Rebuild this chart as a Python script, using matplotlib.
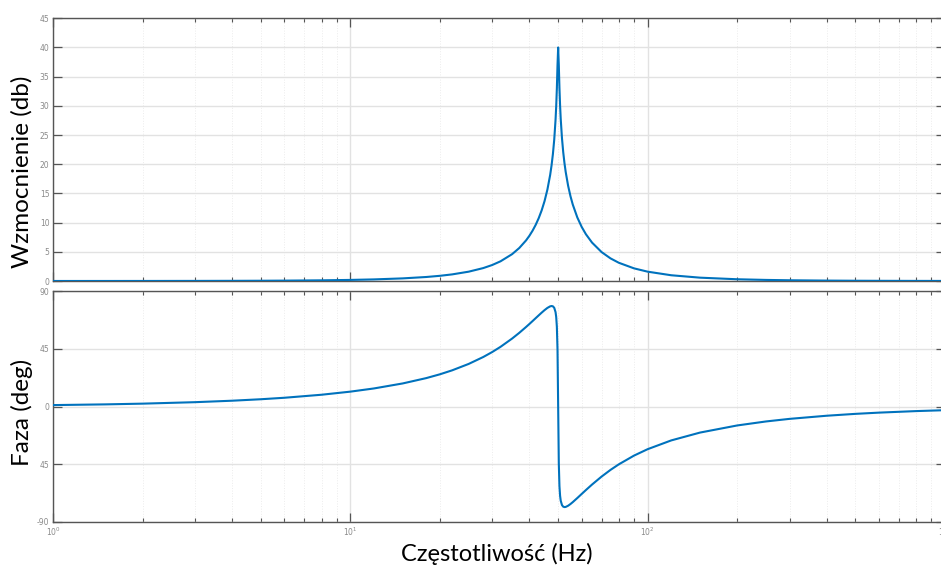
import numpy as np
import matplotlib.pyplot as plt
from matplotlib.ticker import LogLocator, NullFormatter, FixedLocator, FixedFormatter

# frequency response of the resonant filter (read at selected frequencies)
freq_hz = [1, 1.5, 2, 3, 4, 5, 6, 8, 10, 12, 15, 18, 20, 22, 25, 28, 30, 32, 35,
           37, 39, 40, 41, 42, 43, 44, 45, 46, 47, 47.5, 48, 48.5, 49, 49.25,
           49.5, 49.75, 50, 50.25, 50.5, 50.75, 51, 51.5, 52, 52.5, 53, 54, 55,
           56, 58, 60, 62, 65, 70, 75, 80, 90, 100, 120, 150, 200, 250, 300,
           400, 500, 600, 800, 1000]
gain_db = [0.002, 0.004, 0.007, 0.016, 0.028, 0.044, 0.064, 0.116, 0.185, 0.273,
           0.448, 0.686, 0.888, 1.132, 1.597, 2.215, 2.739, 3.374, 4.599, 5.652,
           6.959, 7.734, 8.610, 9.606, 10.754, 12.093, 13.689, 15.652, 18.181,
           19.779, 21.724, 24.204, 27.620, 29.945, 32.977, 36.98, 40.0, 37.00,
           33.046, 30.062, 27.783, 24.457, 22.064, 20.206, 18.693, 16.329,
           14.527, 13.084, 10.882, 9.259, 8.005, 6.579, 4.950, 3.873, 3.121,
           2.163, 1.597, 0.984, 0.571, 0.298, 0.185, 0.126, 0.070, 0.044,
           0.031, 0.017, 0.011]
phase_deg = [1.14, 1.70, 2.27, 3.41, 4.56, 5.71, 6.87, 9.23, 11.65, 14.14, 18.06,
             22.23, 25.19, 28.31, 33.31, 38.74, 42.61, 46.68, 53.14, 57.62,
             62.20, 64.50, 66.79, 69.06, 71.26, 73.39, 75.37, 77.09, 78.32,
             78.57, 78.35, 77.19, 73.79, 69.97, 62.40, 44.50, 0.0, -44.36,
             -62.18, -69.73, -73.56, -77.02, -78.25, -78.58, -78.45, -77.53,
             -76.19, -74.68, -71.49, -68.30, -65.24, -60.96, -54.72, -49.50,
             -45.14, -38.32, -33.31, -26.47, -20.34, -14.78, -11.65, -9.63,
             -7.18, -5.71, -4.75, -3.55, -2.84]

gain_ticks = [0, 5, 10, 15, 20, 25, 30, 35, 40, 45]
phase_ticks = [-90, -45, 0, 45, 90]
phase_tick_labels = ['-90', '45', '0', '45', '90']

line_color = '#0072BD'
spine_color = '#555555'
label_color = '#8a8a8a'
label_font = ['Lato', 'DejaVu Sans']

fig = plt.figure(figsize=(9.41, 5.68), dpi=100)
W, H = 941, 568
left, right = 53, 945
ax1 = fig.add_axes([left / W, 1 - 281 / H, (right - left) / W, (281 - 18.3) / H])
ax2 = fig.add_axes([left / W, 1 - 521.7 / H, (right - left) / W, (521.7 - 291.4) / H])

ax1.plot(freq_hz, gain_db, color=line_color, lw=1.5, zorder=3)
ax2.plot(freq_hz, phase_deg, color=line_color, lw=1.5, zorder=3)

for ax in (ax1, ax2):
    ax.set_xscale('log')
    ax.set_xlim(1, 1000)
    ax.xaxis.set_major_locator(LogLocator(base=10, numticks=10))
    ax.xaxis.set_minor_locator(LogLocator(base=10, subs=np.arange(2, 10), numticks=20))
    ax.xaxis.set_minor_formatter(NullFormatter())
    ax.tick_params(which='both', direction='in', top=True, right=True,
                   color=spine_color, labelcolor=label_color, labelsize=5.5, pad=2.5)
    ax.tick_params(which='major', length=6.5, width=0.9)
    ax.tick_params(which='minor', length=3.2, width=0.8)
    ax.grid(which='major', color='#e2e2e2', lw=1.0)
    ax.grid(which='minor', axis='x', color='#ececec', lw=0.7, ls=':')
    ax.set_axisbelow(True)
    for sp in ax.spines.values():
        sp.set_color(spine_color)
        sp.set_linewidth(1.0)

ax1.set_ylim(0, 45)
ax1.yaxis.set_major_locator(FixedLocator(gain_ticks))
ax1.tick_params(axis='x', labelbottom=False)

ax2.set_ylim(-90, 90)
ax2.yaxis.set_major_locator(FixedLocator(phase_ticks))
ax2.yaxis.set_major_formatter(FixedFormatter(phase_tick_labels))

fig.text(22 / W, 1 - 172 / H, 'Wzmocnienie (db)', rotation=90, ha='center', va='center',
         fontsize=17.5, family=label_font, color='black')
fig.text(22 / W, 1 - 412 / H, 'Faza (deg)', rotation=90, ha='center', va='center',
         fontsize=17.5, family=label_font, color='black')
fig.text(497 / W, 1 - 554 / H, 'Częstotliwość (Hz)', ha='center', va='center',
         fontsize=17, family=label_font, color='black')

fig.savefig('out.png', dpi=100)
